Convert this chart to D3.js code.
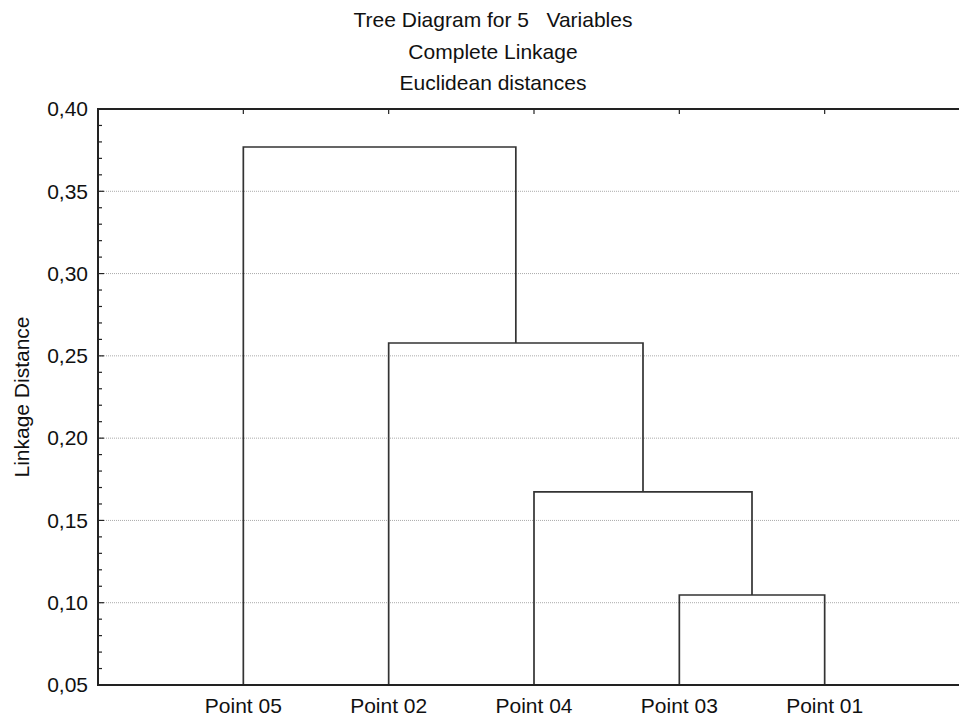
<!DOCTYPE html>
<html>
<head>
<meta charset="utf-8">
<script src="https://cdn.jsdelivr.net/npm/d3@7"></script>
<style>
  body { margin: 0; background: #fff; }
  text { font-family: "Liberation Sans", Arial, sans-serif; fill: #111; white-space: pre; }
</style>
</head>
<body>
<div id="chart"></div>
<script>
// leaf order along the x axis
const leaves = ['Point 05', 'Point 02', 'Point 04', 'Point 03', 'Point 01'];
// merges: left node, right node, linkage distance; nodes are leaf names or merge ids
const mergeLeft = ['Point 03', 'Point 04', 'Point 02', 'Point 05'];
const mergeRight = ['Point 01', 'm0', 'm1', 'm2'];
const mergeHeight = [0.1047, 0.1673, 0.2578, 0.3769];
const yTicks = [0.05, 0.10, 0.15, 0.20, 0.25, 0.30, 0.35, 0.40];
const titleLines = ['Tree Diagram for 5   Variables', 'Complete Linkage', 'Euclidean distances'];

const width = 959, height = 718;
const margin = { top: 109, right: -11, bottom: 33, left: 98 };
const plotW = width - margin.left - margin.right;
const plotH = height - margin.top - margin.bottom;
const fontSize = '21px';

const svg = d3.select('#chart').append('svg')
  .attr('width', width)
  .attr('height', height);

const x = d3.scalePoint().domain(leaves).range([0, plotW]).padding(1);
const y = d3.scaleLinear().domain([0.05, 0.40]).range([plotH, 0]);
const fmt = d => d3.format('.2f')(d).replace('.', ',');

const g = svg.append('g').attr('transform', `translate(${margin.left},${margin.top})`);

// dotted gridlines
g.selectAll('.grid').data(yTicks.slice(1, -1)).enter().append('line')
  .attr('x1', 0).attr('x2', plotW)
  .attr('y1', d => y(d)).attr('y2', d => y(d))
  .attr('stroke', '#aaa').attr('stroke-width', 1)
  .attr('stroke-dasharray', '1,1');

// build node positions
const pos = {};
leaves.forEach(l => { pos[l] = { x: x(l), h: 0.05 }; });
const links = [];
mergeHeight.forEach((h, i) => {
  const a = pos[mergeLeft[i]], b = pos[mergeRight[i]];
  links.push({ a, b, h });
  pos['m' + i] = { x: (a.x + b.x) / 2, h };
});

g.selectAll('.link').data(links).enter().append('path')
  .attr('fill', 'none')
  .attr('stroke', '#333')
  .attr('stroke-width', 1.7)
  .attr('d', d => `M${d.a.x},${y(d.a.h)}V${y(d.h)}H${d.b.x}V${y(d.b.h)}`);

// left axis
const yAxis = d3.axisLeft(y).tickValues(yTicks).tickFormat(fmt).tickSize(0).tickPadding(10);
const ya = g.append('g').call(yAxis);
ya.select('.domain').remove();
ya.selectAll('text').style('font-size', fontSize).attr('fill', '#111');

// minor ticks (inside)
const minor = d3.range(0.05, 0.4001, 0.01);
g.selectAll('.minor').data(minor).enter().append('line')
  .attr('x1', 0).attr('x2', (d, i) => i % 5 === 0 ? 6 : 4)
  .attr('y1', d => y(d)).attr('y2', d => y(d))
  .attr('stroke', '#222').attr('stroke-width', 1.2);

// top ticks at leaf positions
g.selectAll('.toptick').data(leaves).enter().append('line')
  .attr('x1', d => x(d)).attr('x2', d => x(d))
  .attr('y1', 0).attr('y2', 5)
  .attr('stroke', '#222').attr('stroke-width', 1.2);

// frame: left, bottom, top
g.append('path')
  .attr('d', `M${plotW},0H0V${plotH}H${plotW}`)
  .attr('fill', 'none').attr('stroke', '#222').attr('stroke-width', 2);

// x labels
g.selectAll('.xlab').data(leaves).enter().append('text')
  .attr('x', d => x(d)).attr('y', plotH + 28)
  .attr('text-anchor', 'middle')
  .style('font-size', fontSize)
  .text(d => d);

// y label
svg.append('text')
  .attr('transform', 'translate(29,397) rotate(-90)')
  .attr('text-anchor', 'middle')
  .style('font-size', fontSize)
  .text('Linkage Distance');

// title
svg.selectAll('.title').data(titleLines).enter().append('text')
  .attr('x', 493).attr('y', (d, i) => 27 + i * 31.5)
  .attr('text-anchor', 'middle')
  .style('font-size', fontSize)
  .text(d => d);
</script>
</body>
</html>
